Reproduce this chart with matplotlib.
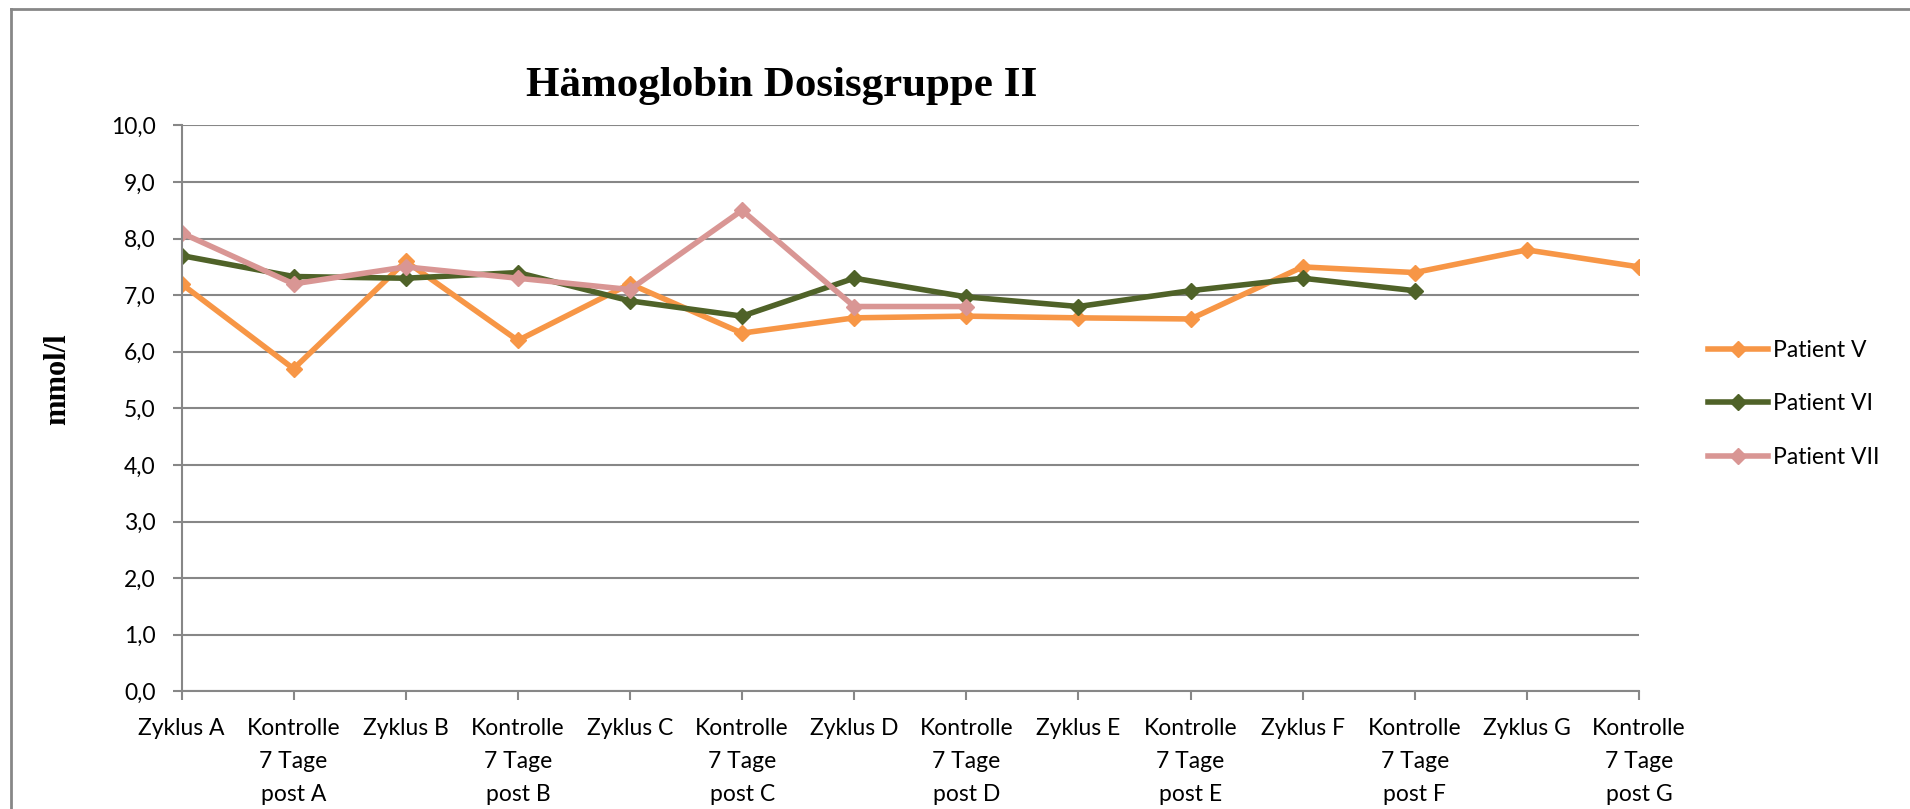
import numpy as np
import matplotlib.pyplot as plt
from matplotlib.lines import Line2D

categories = [
    "Zyklus A", "Kontrolle\n7 Tage\npost A",
    "Zyklus B", "Kontrolle\n7 Tage\npost B",
    "Zyklus C", "Kontrolle\n7 Tage\npost C",
    "Zyklus D", "Kontrolle\n7 Tage\npost D",
    "Zyklus E", "Kontrolle\n7 Tage\npost E",
    "Zyklus F", "Kontrolle\n7 Tage\npost F",
    "Zyklus G", "Kontrolle\n7 Tage\npost G",
]
patient_v = [7.2, 5.7, 7.6, 6.2, 7.2, 6.33, 6.6, 6.63, 6.6, 6.58, 7.5, 7.4, 7.8, 7.5]
patient_vi = [7.7, 7.33, 7.3, 7.4, 6.9, 6.63, 7.3, 6.97, 6.8, 7.08, 7.3, 7.08]
patient_vii = [8.1, 7.2, 7.5, 7.3, 7.1, 8.5, 6.8, 6.8]

series = [
    ("Patient V", patient_v, "#F79646"),
    ("Patient VI", patient_vi, "#4F6228"),
    ("Patient VII", patient_vii, "#D99694"),
]

plt.rcParams["font.family"] = ["Lato", "DejaVu Sans"]
grey = "#878787"

fig = plt.figure(figsize=(19.1, 8.09), dpi=100)
ax = fig.add_axes([181.5 / 1910, 1 - 691.4 / 809, 1457.5 / 1910, 566 / 809])

for name, vals, col in series:
    x = np.arange(len(vals))
    ax.plot(x, vals, color=col, lw=4, marker="D", ms=8.5, label=name,
            solid_joinstyle="miter")

ax.set_xlim(0, len(categories) - 1)
ax.set_ylim(0, 10)
ax.set_xticks(np.arange(len(categories)))
ax.set_xticklabels(categories, fontsize=16.5, linespacing=1.68)
ax.set_yticks(np.arange(0, 11, 1))
ax.set_yticklabels([f"{v:.1f}".replace(".", ",") for v in range(0, 11)], fontsize=16.5)
ax.yaxis.grid(True, color=grey, lw=1.5)
ax.set_axisbelow(True)
for s in ["top", "right"]:
    ax.spines[s].set_visible(False)
for s in ["left", "bottom"]:
    ax.spines[s].set_color(grey)
    ax.spines[s].set_linewidth(1.5)
ax.tick_params(axis="both", direction="out", length=6.5, width=1.5, color=grey)
ax.tick_params(axis="y", pad=12)
ax.tick_params(axis="x", pad=13)

fig.text(782 / 1910, 1 - 96 / 809, "Hämoglobin Dosisgruppe II", ha="center", va="baseline",
         fontsize=31, fontweight="bold", family="Liberation Serif")
fig.text(58 / 1910, 1 - 379 / 809, "mmol/l", rotation=90, ha="center", va="center",
         fontsize=22, fontweight="bold", family="Liberation Serif")

ax.legend(loc="center left", bbox_to_anchor=(1708 / 1910, 1 - 404 / 809),
          bbox_transform=fig.transFigure, frameon=False, fontsize=16.5,
          handlelength=2.6, handletextpad=0.25, labelspacing=1.4,
          borderpad=0, borderaxespad=0)

# outer chart frame (only top and left edges visible in the crop)
fig.add_artist(Line2D([11 / 1910, 11 / 1910], [0, 1 - 9 / 809], color=grey, lw=2,
                      transform=fig.transFigure))
fig.add_artist(Line2D([11 / 1910, 1], [1 - 9 / 809, 1 - 9 / 809], color=grey, lw=2,
                      transform=fig.transFigure))

fig.savefig("out.png", dpi=100)
